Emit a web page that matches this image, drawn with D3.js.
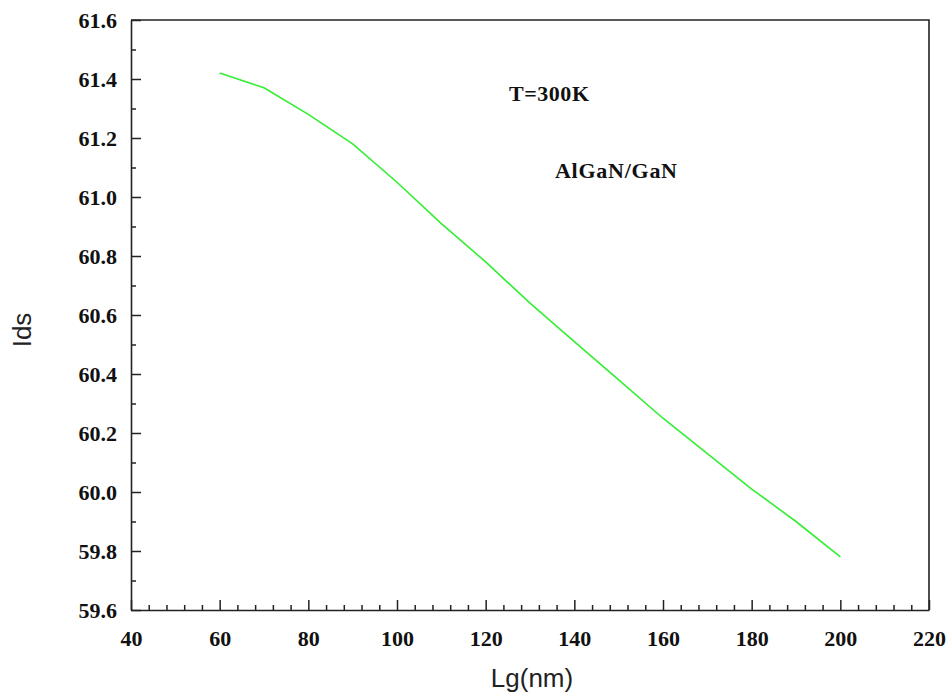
<!DOCTYPE html>
<html>
<head>
<meta charset="utf-8">
<script src="https://cdn.jsdelivr.net/npm/d3@7"></script>
<style>
  html, body { margin: 0; padding: 0; background: #fff; }
  svg { display: block; }
</style>
</head>
<body>
<svg id="chart" width="947" height="695"></svg>
<script>
// Data
const lgValues  = [60, 70, 80, 90, 100, 110, 120, 130, 140, 150, 160, 170, 180, 190, 200];
const idsValues = [61.42, 61.37, 61.28, 61.18, 61.05, 60.91, 60.78, 60.64, 60.51, 60.38, 60.25, 60.13, 60.01, 59.90, 59.78];
const xTicks = [40, 60, 80, 100, 120, 140, 160, 180, 200, 220];
const yTicks = [59.6, 59.8, 60.0, 60.2, 60.4, 60.6, 60.8, 61.0, 61.2, 61.4, 61.6];
const annotations = ["T=300K", "AlGaN/GaN"];
const xTitle = "Lg(nm)";
const yTitle = "Ids";

const svg = d3.select("#chart");
const L = 131, R = 929, T = 20, B = 610;

const x = d3.scaleLinear().domain([40, 220]).range([L, R]);
const y = d3.scaleLinear().domain([59.6, 61.6]).range([B, T]);

const serif = "'Liberation Serif', 'Times New Roman', serif";
const sans = "'Liberation Sans', Arial, sans-serif";

// Frame (top and right)
svg.append("path")
  .attr("d", `M${L},${T}H${R}V${B}`)
  .attr("fill", "none").attr("stroke", "#222").attr("stroke-width", 1.6);

// Minor ticks
const xMinor = d3.range(40, 220.001, 4).filter(v => !xTicks.includes(v));
const yMinor = d3.range(0, 21).map(i => +(59.6 + i * 0.1).toFixed(1)).filter(v => !yTicks.some(t => Math.abs(t - v) < 1e-6));

// Bottom axis
const xAxis = d3.axisBottom(x).tickValues(xTicks).tickSizeInner(-10).tickSizeOuter(0).tickPadding(20).tickFormat(d3.format("d"));
const gx = svg.append("g").attr("transform", `translate(0,${B})`).call(xAxis);
gx.select(".domain").attr("stroke", "#222").attr("stroke-width", 1.6);
gx.selectAll(".tick line").attr("stroke", "#222").attr("stroke-width", 1.5);
gx.selectAll(".tick text").attr("font-family", serif).attr("font-weight", "bold").attr("font-size", 22).attr("fill", "#111");
const gxm = svg.append("g").attr("transform", `translate(0,${B})`)
  .call(d3.axisBottom(x).tickValues(xMinor).tickSizeInner(-5).tickSizeOuter(0).tickFormat(""));
gxm.select(".domain").remove();
gxm.selectAll(".tick line").attr("stroke", "#222").attr("stroke-width", 1.5);

// Left axis
const yAxis = d3.axisLeft(y).tickValues(yTicks).tickSizeInner(-10).tickSizeOuter(0).tickPadding(14).tickFormat(d3.format(".1f"));
const gy = svg.append("g").attr("transform", `translate(${L},0)`).call(yAxis);
gy.select(".domain").attr("stroke", "#222").attr("stroke-width", 1.6);
gy.selectAll(".tick line").attr("stroke", "#222").attr("stroke-width", 1.5);
gy.selectAll(".tick text").attr("font-family", serif).attr("font-weight", "bold").attr("font-size", 22).attr("fill", "#111");
const gym = svg.append("g").attr("transform", `translate(${L},0)`)
  .call(d3.axisLeft(y).tickValues(yMinor).tickSizeInner(-5).tickSizeOuter(0).tickFormat(""));
gym.select(".domain").remove();
gym.selectAll(".tick line").attr("stroke", "#222").attr("stroke-width", 1.5);

// Line
const line = d3.line().x((d, i) => x(lgValues[i])).y(d => y(d));
svg.append("path")
  .datum(idsValues)
  .attr("d", line)
  .attr("fill", "none")
  .attr("stroke", "#33ee33")
  .attr("stroke-width", 1.6);

// Annotations
svg.append("text").attr("x", 509).attr("y", 101)
  .attr("font-family", serif).attr("font-weight", "bold").attr("font-size", 22).attr("fill", "#111")
  .attr("textLength", 80).attr("lengthAdjust", "spacing")
  .text(annotations[0]);
svg.append("text").attr("x", 555).attr("y", 178)
  .attr("font-family", serif).attr("font-weight", "bold").attr("font-size", 22).attr("fill", "#111")
  .attr("textLength", 122).attr("lengthAdjust", "spacing")
  .text(annotations[1]);

// Axis titles
svg.append("text").attr("x", 532).attr("y", 687).attr("text-anchor", "middle")
  .attr("font-family", sans).attr("font-size", 26).attr("fill", "#222")
  .text(xTitle);
svg.append("text").attr("transform", "translate(31,330) rotate(-90)").attr("text-anchor", "middle")
  .attr("font-family", sans).attr("font-size", 26).attr("fill", "#222")
  .text(yTitle);
</script>
</body>
</html>
